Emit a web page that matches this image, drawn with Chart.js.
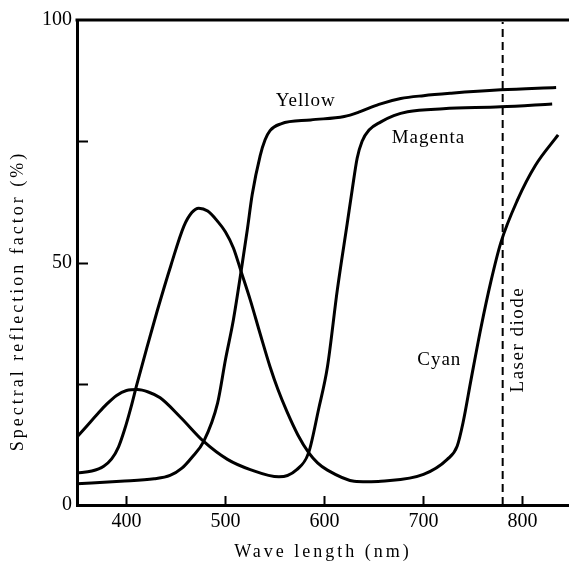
<!DOCTYPE html>
<html>
<head>
<meta charset="utf-8">
<script src="https://cdn.jsdelivr.net/npm/chart.js@4/dist/chart.umd.min.js"></script>
<style>
  html, body { margin: 0; padding: 0; background: #fff; }
  canvas { display: block; }
</style>
</head>
<body>
<canvas id="chart" width="569" height="565"></canvas>
<script>
// wavelengths (nm) and spectral reflection factor (%)
const yellowNm  = [350, 394, 428, 444, 456, 466, 478, 492, 500, 508, 516, 522, 527, 535, 540, 545, 556, 586, 620, 636, 655, 677, 700, 728, 778, 834];
const yellowVal = [4.4, 4.9, 5.4, 6.1, 7.6, 9.8, 13.1, 21.0, 30.0, 38.2, 48.5, 56.7, 64.0, 72.0, 75.3, 77.2, 78.6, 79.4, 80.1, 81.1, 82.6, 83.8, 84.4, 84.9, 85.6, 86.1];

const magentaNm  = [350, 360, 370, 380, 390, 400, 411, 422, 434, 455, 478, 502, 525, 554, 572, 584, 594, 603, 613, 623, 628, 633, 638, 645, 657, 670, 684, 720, 778, 830];
const magentaVal = [14.0, 16.3, 18.6, 20.8, 22.6, 23.6, 23.8, 23.3, 22.1, 18.0, 13.1, 9.4, 7.3, 5.8, 7.3, 10.8, 19.7, 28.5, 44.4, 58.1, 65.0, 71.5, 75.0, 77.3, 79.0, 80.3, 81.1, 81.7, 82.1, 82.7];

const cyanNm  = [350, 365, 377, 385, 392, 398, 405, 410, 420, 431, 445, 458, 466, 473, 482, 492, 500, 508, 516, 525, 535, 545, 553, 562, 573, 584, 593, 603, 630, 643, 657, 700, 724, 734, 740, 748, 758, 768, 778, 795, 813, 836];
const cyanVal = [6.6, 7.0, 8.0, 9.5, 12.0, 15.5, 20.5, 24.5, 32.0, 40.0, 49.5, 57.5, 60.3, 61.2, 60.6, 58.5, 56.3, 53.0, 48.0, 42.3, 35.3, 28.5, 23.8, 19.3, 14.5, 10.8, 8.7, 7.2, 4.9, 4.8, 4.9, 6.3, 9.4, 12.1, 17.0, 25.8, 36.5, 46.0, 54.0, 62.9, 70.0, 76.3];

const laserNm = 780;

const xTicks = [400, 500, 600, 700, 800];
const yTicks = [0, 50, 100];
const yMarks = [25, 50, 75];

const serif = '"Liberation Serif", "DejaVu Serif", serif';

function pts(xs, ys) {
  return xs.map((x, i) => ({ x: x, y: ys[i] }));
}

function curve(label, xs, ys) {
  return {
    label: label,
    data: pts(xs, ys),
    borderColor: '#000',
    borderWidth: 3,
    pointRadius: 0,
    fill: false,
    cubicInterpolationMode: 'monotone'
  };
}

// inward tick marks, top frame line, curve labels and axis titles
const decor = {
  id: 'decor',
  afterDraw(chart) {
    const ctx = chart.ctx;
    const a = chart.chartArea;
    const xs = chart.scales.x, ys = chart.scales.y;
    ctx.save();
    ctx.strokeStyle = '#000';
    ctx.fillStyle = '#000';

    // top frame
    ctx.lineWidth = 3;
    ctx.beginPath();
    ctx.moveTo(a.left - 1.5, a.top);
    ctx.lineTo(a.right, a.top);
    ctx.stroke();

    // inward ticks
    ctx.lineWidth = 2;
    ctx.beginPath();
    xTicks.forEach(v => {
      const px = Math.round(xs.getPixelForValue(v)) + 0.5;
      ctx.moveTo(px, a.bottom);
      ctx.lineTo(px, a.bottom - 9);
    });
    yMarks.forEach(v => {
      const py = Math.round(ys.getPixelForValue(v)) + 0.5;
      ctx.moveTo(a.left, py);
      ctx.lineTo(a.left + 11, py);
    });
    ctx.stroke();

    ctx.font = '19px ' + serif;
    ctx.letterSpacing = '1px';
    ctx.textAlign = 'center';
    ctx.textBaseline = 'middle';
    ctx.fillText('Yellow', xs.getPixelForValue(581), ys.getPixelForValue(83.2));
    ctx.fillText('Magenta', xs.getPixelForValue(705), ys.getPixelForValue(75.7));
    ctx.fillText('Cyan', xs.getPixelForValue(716), ys.getPixelForValue(29.8));

    ctx.save();
    ctx.translate(xs.getPixelForValue(796), ys.getPixelForValue(34.1));
    ctx.rotate(-Math.PI / 2);
    ctx.letterSpacing = '1.5px';
    ctx.fillText('Laser diode', 0, 0);
    ctx.restore();

    // axis titles
    ctx.font = '18px ' + serif;
    ctx.letterSpacing = '3px';
    ctx.fillText('Wave length (nm)', (a.left + a.right) / 2, 552);

    ctx.save();
    ctx.translate(18, 301);
    ctx.rotate(-Math.PI / 2);
    ctx.fillText('Spectral reflection factor (%)', 0, 0);
    ctx.restore();

    ctx.restore();
  }
};

new Chart(document.getElementById('chart'), {
  type: 'line',
  data: {
    datasets: [
      curve('Yellow', yellowNm, yellowVal),
      curve('Magenta', magentaNm, magentaVal),
      curve('Cyan', cyanNm, cyanVal),
      {
        label: 'Laser diode',
        data: [{ x: laserNm, y: 0 }, { x: laserNm, y: 99.6 }],
        borderColor: '#000',
        borderWidth: 2,
        borderDash: [8, 5],
        pointRadius: 0,
        fill: false
      }
    ]
  },
  options: {
    responsive: false,
    animation: false,
    devicePixelRatio: 1,
    layout: { padding: { top: 20, right: 0, left: 0, bottom: 0 } },
    plugins: {
      legend: { display: false },
      tooltip: { enabled: false }
    },
    scales: {
      x: {
        type: 'linear',
        min: 350,
        max: 847,
        afterBuildTicks: s => { s.ticks = xTicks.map(v => ({ value: v })); },
        afterFit: s => { s.height = 60; },
        grid: { display: false, drawTicks: false },
        border: { display: true, color: '#000', width: 3 },
        ticks: {
          color: '#000',
          padding: 5,
          maxRotation: 0,
          font: { family: serif, size: 20 }
        }
      },
      y: {
        type: 'linear',
        min: 0,
        max: 100,
        afterBuildTicks: s => { s.ticks = yTicks.map(v => ({ value: v })); },
        afterFit: s => { s.width = 77; },
        grid: { display: false, drawTicks: false },
        border: { display: true, color: '#000', width: 3 },
        ticks: {
          color: '#000',
          padding: 5,
          font: { family: serif, size: 20 }
        }
      }
    }
  },
  plugins: [decor]
});
</script>
</body>
</html>
